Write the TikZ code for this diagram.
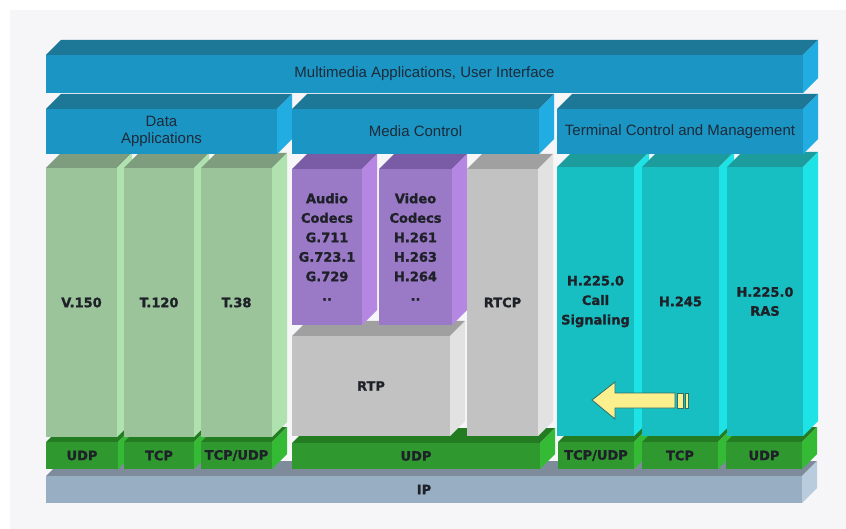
\documentclass[tikz,border=0pt]{standalone}
\usepackage{fontspec}
\setmainfont{Liberation Sans}
\newfontfamily\lblfont{DejaVu Sans Bold}[FakeBold=1.2]

% palettes: front face, top face, side face
\definecolor{bluefront}{HTML}{1B95C4}
\definecolor{bluetop}{HTML}{1D7898}
\definecolor{blueside}{HTML}{22ADE2}
\definecolor{sagefront}{HTML}{9CC49B}
\definecolor{sagetop}{HTML}{7E9C7E}
\definecolor{sageside}{HTML}{B0E2B0}
\definecolor{violetfront}{HTML}{9A79C6}
\definecolor{violettop}{HTML}{7A5BA6}
\definecolor{violetside}{HTML}{B587E3}
\definecolor{greyfront}{HTML}{C2C2C2}
\definecolor{greytop}{HTML}{A0A0A0}
\definecolor{greyside}{HTML}{E2E2E2}
\definecolor{tealfront}{HTML}{17BFC2}
\definecolor{tealtop}{HTML}{1C9C9C}
\definecolor{tealside}{HTML}{1DE2E6}
\definecolor{leaffront}{HTML}{2F9930}
\definecolor{leaftop}{HTML}{237C22}
\definecolor{leafside}{HTML}{35BA35}
\definecolor{slatefront}{HTML}{98AFC3}
\definecolor{slatetop}{HTML}{7D8B9B}
\definecolor{slateside}{HTML}{B8CCDD}
\definecolor{panelbg}{HTML}{F6F5F8}
\definecolor{hdrink}{HTML}{1C2B3A}
\definecolor{lblink}{HTML}{1E2128}
\definecolor{arrowfill}{HTML}{FCF08E}
\definecolor{arrowline}{HTML}{2F6F66}

% a box seen from the front, slightly from above and right
% #1 name, #2 x0, #3 y0, #4 x1, #5 y1, #6 palette, #7 text style, #8 text
\newcommand\prism[8]{%
  \fill[#6top] (#2,#3) -- (#2+15,#3-15) -- (#4+15,#3-15) -- (#4,#3) -- cycle;
  \fill[#6side] (#4,#3) -- (#4+15,#3-15) -- (#4+15,#5-15) -- (#4,#5) -- cycle;
  \fill[#6front] (#2,#3) rectangle (#4,#5);
  \node[#7] (#1) at ({(#2+#4)/2},{(#3+#5)/2}) {#8};
}

\begin{document}
\begin{tikzpicture}[x=1pt,y=-1pt,
  hdr/.style={font=\fontsize{15}{17}\selectfont, text=hdrink, align=center, inner sep=0pt},
  lbl/.style={font=\lblfont\fontsize{13}{19.5}\selectfont, text=lblink, align=center, inner sep=0pt}]
\useasboundingbox (0,0) rectangle (846,529);
\fill[white] (0,0) rectangle (846,529);
\fill[panelbg] (10,10) rectangle (846,529);

% network layer
\prism{ip}{46}{476}{802}{503}{slate}{lbl}{IP}

% transport layer
\prism{udpA}{46}{442}{118}{469}{leaf}{lbl}{UDP}
\prism{tcpA}{124}{442}{194}{469}{leaf}{lbl}{TCP}
\prism{tcpudpA}{201}{442}{272}{469}{leaf}{lbl}{TCP/UDP}
\prism{udpM}{292}{443}{540}{469}{leaf}{lbl}{UDP}
\prism{tcpudpB}{558}{442}{634}{469}{leaf}{lbl}{TCP/UDP}
\prism{tcpB}{642}{442}{718}{469}{leaf}{lbl}{TCP}
\prism{udpB}{726}{442}{802}{469}{leaf}{lbl}{UDP}

% data protocols
\prism{v150}{46}{168}{117}{437}{sage}{lbl}{V.150}
\prism{t120}{124}{168}{194}{437}{sage}{lbl}{T.120}
\prism{t38}{201}{168}{272}{437}{sage}{lbl}{T.38}

% media transport and codecs
\prism{rtp}{292}{336}{450}{436}{grey}{lbl}{RTP}
\prism{audio}{292}{169}{362}{325}{violet}{lbl}{Audio\\Codecs\\G.711\\G.723.1\\G.729\\..}
\prism{video}{379}{169}{452}{325}{violet}{lbl}{Video\\Codecs\\H.261\\H.263\\H.264\\..}
\prism{rtcp}{467}{169}{538}{436}{grey}{lbl}{RTCP}

% call control
\prism{h225call}{557}{167}{634}{436}{teal}{lbl}{H.225.0\\Call\\Signaling}
\prism{h245}{642}{167}{719}{436}{teal}{lbl}{H.245}
\prism{h225ras}{727}{167}{803}{436}{teal}{lbl,font=\lblfont\fontsize{13}{19}\selectfont}{H.225.0\\RAS}

% application groups
\prism{dataapp}{46}{109}{277}{154}{blue}{hdr}{Data\\Applications}
\prism{mediactl}{292}{109}{539}{154}{blue}{hdr}{Media Control}
\prism{termctl}{557}{109}{803}{154}{blue}{hdr}{Terminal Control and Management}

% user level
\prism{mmapp}{46}{55}{803}{93}{blue}{hdr}{Multimedia Applications, User Interface}

% striped arrow pointing left
\begin{scope}[fill=arrowfill, draw=arrowline, line width=0.8pt, line join=miter]
  \filldraw (592,400) -- (615,382) -- (615,393) -- (675,393) -- (675,408)
    -- (615,408) -- (615,419) -- cycle;
  \filldraw (677,393) rectangle (683,408);
  \filldraw (685,393) rectangle (688,408);
\end{scope}
\end{tikzpicture}
\end{document}
